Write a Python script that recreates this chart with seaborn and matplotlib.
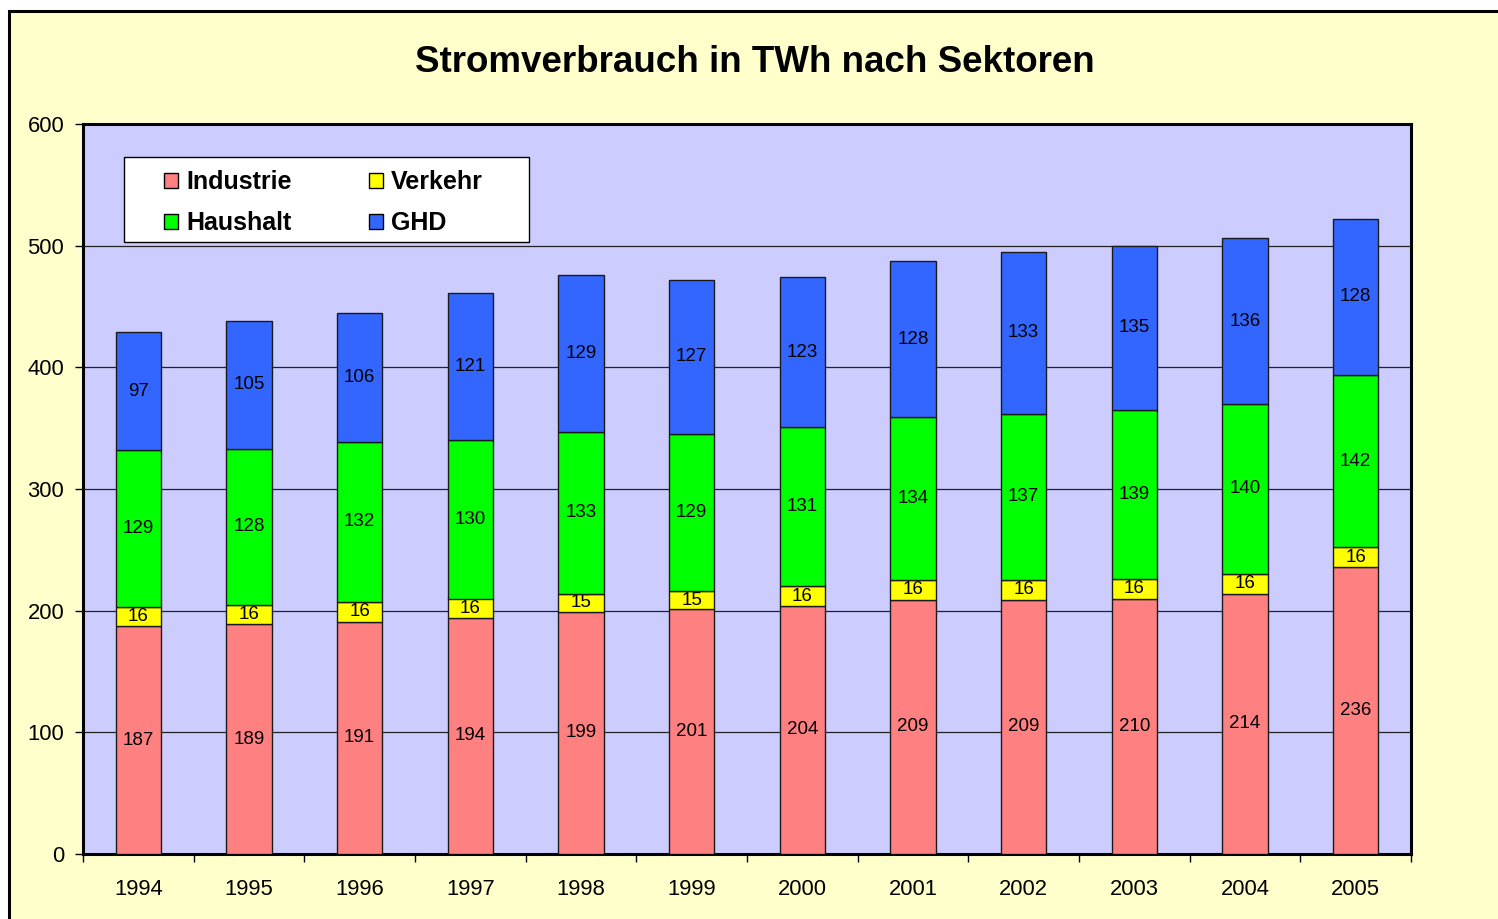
import numpy as np
import matplotlib
matplotlib.use("Agg")
import matplotlib.pyplot as plt
from matplotlib.patches import Rectangle, Patch
import seaborn as sns

# Stromverbrauch in TWh nach Sektoren
years = ['1994', '1995', '1996', '1997', '1998', '1999',
         '2000', '2001', '2002', '2003', '2004', '2005']
industrie = [187, 189, 191, 194, 199, 201, 204, 209, 209, 210, 214, 236]
verkehr = [16, 16, 16, 16, 15, 15, 16, 16, 16, 16, 16, 16]
haushalt = [129, 128, 132, 130, 133, 129, 131, 134, 137, 139, 140, 142]
ghd = [97, 105, 106, 121, 129, 127, 123, 128, 133, 135, 136, 128]

series_names = ['Industrie', 'Verkehr', 'Haushalt', 'GHD']
series_values = [industrie, verkehr, haushalt, ghd]
series_colors = ['#FF8080', '#FFFF00', '#00FF00', '#3366FF']

sns.set_style('ticks')
plt.rcParams['font.family'] = ['Liberation Sans', 'DejaVu Sans']
plt.rcParams['text.color'] = 'black'
plt.rcParams['xtick.color'] = 'black'
plt.rcParams['ytick.color'] = 'black'

W, H = 1498, 919
fig = plt.figure(figsize=(W / 100, H / 100), dpi=100)
fig.patch.set_facecolor('white')

# yellow chart area with black border (cut at right/bottom)
fig.patches.append(Rectangle((8.5 / W, -0.1), 1.2, 1 - 11 / H + 0.1,
                             transform=fig.transFigure, facecolor='#FFFFCC',
                             edgecolor='black', linewidth=2.2, zorder=-5))

ax = fig.add_axes([83 / W, 1 - 854 / H, (1411 - 83) / W, (854 - 124) / H])
ax.set_facecolor('#CCCCFF')

bottom = np.zeros(len(years))
for name, vals, col in zip(series_names, series_values, series_colors):
    sns.barplot(x=years, y=vals, bottom=bottom.copy(), color=col, saturation=1,
                width=0.41, edgecolor='#1a1a1a', linewidth=1.0, errorbar=None,
                ax=ax, zorder=3)
    ax.bar_label(ax.containers[-1], labels=[str(v) for v in vals],
                 label_type='center', fontsize=13.5, color='black')
    bottom += np.array(vals)

ax.set_xlim(-0.5, len(years) - 0.5)
ax.set_ylim(0, 600)
ax.set_yticks(range(0, 601, 100))
ax.set_xticks(range(len(years)))
ax.set_xticklabels(years)
ax.set_xticks(np.arange(-0.5, len(years), 1), minor=True)
ax.set_xlabel('')
ax.set_ylabel('')

ax.yaxis.grid(True, color='#222222', linewidth=0.9)
ax.xaxis.grid(False)
ax.set_axisbelow(True)

for sp in ax.spines.values():
    sp.set_visible(True)
    sp.set_color('black')
    sp.set_linewidth(2.2)

ax.tick_params(axis='x', which='major', length=0, pad=18, labelsize=15.8)
ax.tick_params(axis='x', which='minor', length=5.5, width=1, direction='out')
ax.tick_params(axis='y', length=5.5, width=1, direction='out', pad=8, labelsize=15.8)

# legend box
ax.add_patch(Rectangle((41 / 1328, (854 - 242) / 730), (529 - 124) / 1328, 85 / 730,
                       transform=ax.transAxes, facecolor='white', edgecolor='black',
                       linewidth=1.0, zorder=5))
handles = [Patch(facecolor=series_colors[i], edgecolor='black', linewidth=1.0)
           for i in [0, 2, 1, 3]]
labels = [series_names[i] for i in [0, 2, 1, 3]]
leg = ax.legend(handles, labels, ncol=2, loc='upper left',
                bbox_to_anchor=((164 - 83) / 1328, (854 - 170) / 730),
                frameon=False, borderpad=0, borderaxespad=0,
                handlelength=0.56, handleheight=0.56, handletextpad=0.32,
                columnspacing=3.1, labelspacing=0.68,
                prop={'weight': 'bold', 'size': 18})
leg.set_zorder(6)

fig.text(755 / W, 1 - 62 / H, 'Stromverbrauch in TWh nach Sektoren',
         ha='center', va='center', fontsize=26.5, fontweight='bold', color='black')

fig.savefig('out.png', dpi=100)
